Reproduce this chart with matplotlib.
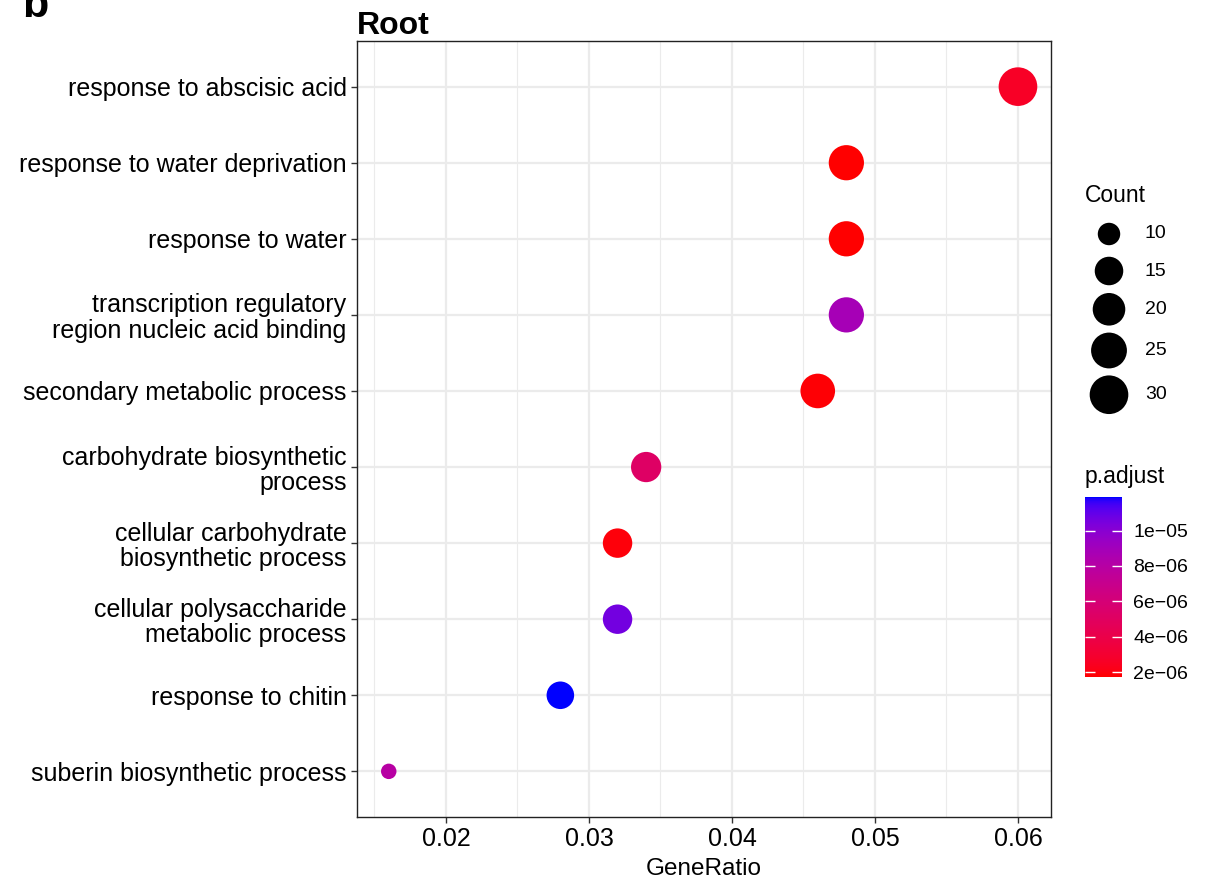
import numpy as np
import matplotlib
matplotlib.use("Agg")
import matplotlib.pyplot as plt
from matplotlib.colors import ListedColormap, Normalize
from matplotlib.colorbar import ColorbarBase

plt.rcParams["font.family"] = ["Liberation Sans", "DejaVu Sans"]

DPI = 100
W, H = 1217, 882

# GO terms, top to bottom
terms = [
    "response to abscisic acid",
    "response to water deprivation",
    "response to water",
    "transcription regulatory\nregion nucleic acid binding",
    "secondary metabolic process",
    "carbohydrate biosynthetic\nprocess",
    "cellular carbohydrate\nbiosynthetic process",
    "cellular polysaccharide\nmetabolic process",
    "response to chitin",
    "suberin biosynthetic process",
]
gene_ratio = [0.060, 0.048, 0.048, 0.048, 0.046, 0.034, 0.032, 0.032, 0.028, 0.016]
counts = [30, 24, 24, 24, 23, 17, 16, 16, 14, 8]
p_adjust = [2.6e-6, 1.72e-6, 1.75e-6, 8.8e-6, 1.8e-6, 5.2e-6, 1.9e-6, 1.06e-5, 1.19e-5, 8.0e-6]

count_breaks = [10, 15, 20, 25, 30]
p_breaks = [2e-6, 4e-6, 6e-6, 8e-6, 1e-5]
p_labels = ["2e\u221206", "4e\u221206", "6e\u221206", "8e\u221206", "1e\u221205"]


# --- red -> blue gradient interpolated in CIELAB (like scale_colour_gradient)
_M = np.array([[0.4124, 0.3576, 0.1805],
               [0.2126, 0.7152, 0.0722],
               [0.0193, 0.1192, 0.9505]])
_WHITE = np.array([0.95047, 1.0, 1.08883])


def srgb_to_lab(rgb):
    c = np.asarray(rgb, float)
    lin = np.where(c <= 0.04045, c / 12.92, ((c + 0.055) / 1.055) ** 2.4)
    xyz = _M @ lin / _WHITE
    f = np.where(xyz > 0.008856, np.cbrt(xyz), 7.787 * xyz + 16 / 116)
    return np.array([116 * f[1] - 16, 500 * (f[0] - f[1]), 200 * (f[1] - f[2])])


def lab_to_srgb(lab):
    L, a, b = lab
    fy = (L + 16) / 116
    f = np.array([fy + a / 500, fy, fy - b / 200])
    xyz = np.where(f ** 3 > 0.008856, f ** 3, (f - 16 / 116) / 7.787) * _WHITE
    lin = np.clip(np.linalg.solve(_M, xyz), 0, 1)
    return np.clip(np.where(lin <= 0.0031308, 12.92 * lin,
                            1.055 * lin ** (1 / 2.4) - 0.055), 0, 1)


lab_lo = srgb_to_lab([1, 0, 0])
lab_hi = srgb_to_lab([0, 0, 1])
cmap = ListedColormap([lab_to_srgb(lab_lo + t * (lab_hi - lab_lo))
                       for t in np.linspace(0, 1, 256)])
norm = Normalize(vmin=min(p_adjust), vmax=max(p_adjust))

# --- point size: area scale, range 3..8 mm, converted to pixels then points
cmin, cmax = min(counts), max(counts)


def count_to_px(c):
    s = 3 + np.sqrt((np.asarray(c, float) - cmin) / (cmax - cmin)) * 5
    return 1.63 * (2.845 * s + 0.945)


def px_to_area(px):
    return (np.asarray(px) * 72 / DPI) ** 2


fig = plt.figure(figsize=(W / DPI, H / DPI), dpi=DPI)
ax = fig.add_axes([357 / W, 1 - 817 / H, (1051 - 357) / W, (817 - 41) / H])

ypos = np.arange(len(terms))[::-1]
ax.scatter(gene_ratio, ypos, s=px_to_area(count_to_px(counts)),
           c=p_adjust, cmap=cmap, norm=norm, linewidths=0, zorder=3)

ax.set_xlim(0.01378, 0.06231)
ax.set_ylim(-0.6, len(terms) - 0.4)
ax.set_xticks([0.02, 0.03, 0.04, 0.05, 0.06])
ax.set_xticklabels(["0.02", "0.03", "0.04", "0.05", "0.06"])
ax.set_xticks([0.015, 0.025, 0.035, 0.045, 0.055], minor=True)
ax.set_yticks(ypos)
ax.set_yticklabels(terms, fontsize=18, linespacing=1.08)
ax.tick_params(axis="both", which="major", length=4, width=1, color="#333333",
               labelcolor="black")
ax.tick_params(axis="y", pad=3.5)
ax.tick_params(axis="x", labelsize=18, pad=3)
ax.tick_params(axis="x", which="minor", length=0)
ax.grid(True, which="major", color="#EBEBEB", linewidth=1.6, zorder=0)
ax.grid(True, which="minor", axis="x", color="#EBEBEB", linewidth=0.8, zorder=0)
ax.set_axisbelow(True)
for sp in ax.spines.values():
    sp.set_linewidth(1.0)
    sp.set_color("#222222")
ax.set_xlabel("GeneRatio", fontsize=17.5, labelpad=5)
ax.set_title("Root", loc="left", fontsize=23, fontweight="bold", pad=3,
             x=0.0)

fig.text(22 / W, 1 - 6 / H, "b", fontsize=31, fontweight="bold",
         ha="left", va="center")

# --- Count legend
leg = fig.add_axes([0, 0, 1, 1], facecolor="none")
leg.set_xlim(0, W)
leg.set_ylim(H, 0)
leg.axis("off")
leg.text(1085, 195, "Count", fontsize=16.5, ha="left", va="center")
key_px = count_to_px(count_breaks)
key_h = np.maximum(key_px, 30) + 7
centers = 234 + np.concatenate([[0], np.cumsum((key_h[:-1] + key_h[1:]) / 2)])
leg.scatter(np.full(len(count_breaks), 1109), centers, s=px_to_area(key_px),
            c="black", linewidths=0)
for c, yc in zip(count_breaks, centers):
    leg.text(1145, yc, str(c), fontsize=14, ha="left", va="center")

leg.text(1085, 476, "p.adjust", fontsize=16.5, ha="left", va="center")

# --- p.adjust colour bar
cax = fig.add_axes([1085 / W, 1 - 677 / H, 37 / W, 180 / H])
cb = ColorbarBase(cax, cmap=cmap, norm=norm, orientation="vertical")
cb.outline.set_visible(False)
cb.set_ticks(p_breaks)
cb.set_ticklabels(p_labels)
cax.tick_params(axis="y", direction="in", color="white", length=7, width=1,
                left=True, right=True, labelleft=False, labelright=True,
                labelsize=14, pad=8)

fig.savefig("out.png", dpi=DPI)
